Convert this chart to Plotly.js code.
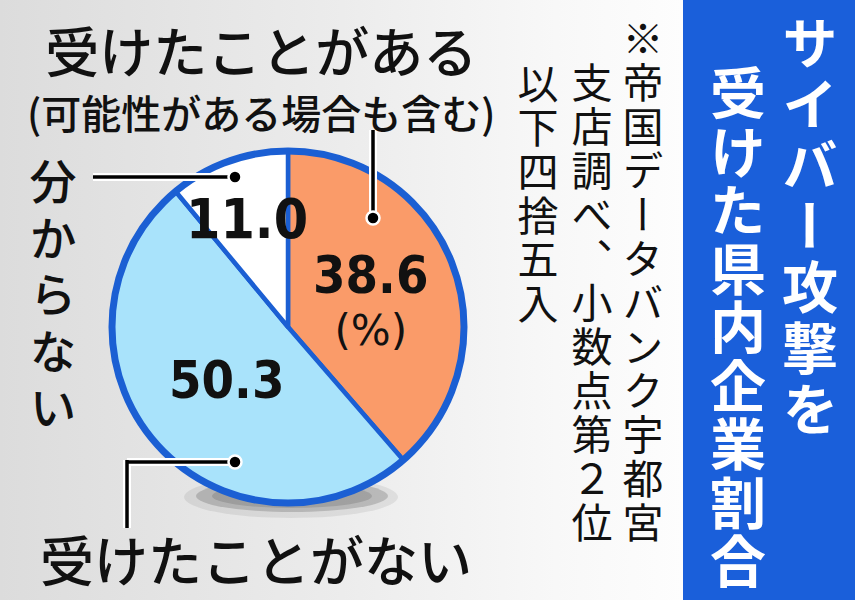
<!DOCTYPE html>
<html>
<head>
<meta charset="utf-8">
<script src="https://cdn.plot.ly/plotly-3.0.1.min.js"></script>
<style>
html,body{margin:0;padding:0;}
body{background:linear-gradient(to right,#dcdcdc 0%,#ececec 40%,#f8f8f8 65%,#fdfdfd 80%);}
#chart{width:855px;height:600px;}
</style>
</head>
<body>
<div id="chart"></div>
<script>
// ---- data ----
const labels = ['受けたことがある', '受けたことがない', '分からない'];
const values = [38.6, 50.3, 11.0];
const subLabel = '(可能性がある場合も含む)';
const unitLabel = '(%)';
const titleLines = ['サイバー攻撃を', '受けた県内企業割合'];
const noteLines = ['※帝国データバンク宇都宮', '支店調べ、小数点第２位', '以下四捨五入'];

// ---- styles ----
const W = 855, H = 600;
const sliceColors = ['#fa9b69', '#a9e3fb', '#ffffff'];
const ringBlue = '#1b5fd3';
const bandBlue = '#1a5fda';
const JP = '"Noto Sans CJK JP", "Noto Sans", sans-serif';
const NUM = '"DejaVu Sans Condensed", "Liberation Sans Narrow", sans-serif';
const NUMCSS = "'DejaVu Sans Condensed', 'Liberation Sans Narrow', sans-serif";
const px = x => x / W;
const py = y => 1 - y / H;

// pie geometry (pixels)
const cx = 288, cy = 327, R = 176;

const trace = {
  type: 'pie',
  labels: labels,
  values: values,
  sort: false,
  direction: 'clockwise',
  rotation: 0,
  textinfo: 'none',
  hoverinfo: 'label+value',
  showlegend: false,
  marker: {colors: sliceColors, line: {color: ringBlue, width: 4.5}},
  domain: {x: [px(cx - R), px(cx + R)], y: [py(cy + R), py(cy - R)]}
};

const shapes = [];
shapes.push({type:'rect', xref:'paper', yref:'paper', x0:px(683), x1:1, y0:0, y1:1,
  fillcolor: bandBlue, line:{width:0}, layer:'below'});
shapes.push({type:'circle', xref:'paper', yref:'paper', x0:px(184), x1:px(398), y0:py(518), y1:py(476),
  fillcolor:'rgba(0,0,0,0.07)', line:{width:0}, layer:'below'});
shapes.push({type:'circle', xref:'paper', yref:'paper', x0:px(196), x1:px(388), y0:py(512), y1:py(480),
  fillcolor:'rgba(0,0,0,0.16)', line:{width:0}, layer:'below'});
shapes.push({type:'circle', xref:'paper', yref:'paper', x0:px(212), x1:px(372), y0:py(508), y1:py(484),
  fillcolor:'rgba(0,0,0,0.12)', line:{width:0}, layer:'below'});
shapes.push({type:'circle', xref:'paper', yref:'paper', x0:px(cx-R), x1:px(cx+R), y0:py(cy+R), y1:py(cy-R),
  line:{color: ringBlue, width:7}, fillcolor:'rgba(0,0,0,0)', layer:'above'});

function seg(x0,y0,x1,y1,color,width){
  shapes.push({type:'line', xref:'paper', yref:'paper', x0:px(x0), y0:py(y0), x1:px(x1), y1:py(y1),
    line:{color:color, width:width}, layer:'above'});
}
function dot(x,y){
  const r = 6.5;
  shapes.push({type:'circle', xref:'paper', yref:'paper', x0:px(x-r), x1:px(x+r), y0:py(y+r), y1:py(y-r),
    fillcolor:'#000000', line:{color:'#ffffff', width:2.5}, layer:'above'});
}
const segs = [
  [373,130,373,218],
  [93,177,235,177],
  [127,462,235,462],
  [127,460,127,528]
];
segs.forEach(s => seg(...s, '#ffffff', 8));
segs.forEach(s => seg(...s, '#000000', 3.5));
dot(373,218); dot(235,177); dot(235,462);

const annotations = [];
function ann(text, x, y, font, extra){
  annotations.push(Object.assign({text:text, x:px(x), y:py(y), xref:'paper', yref:'paper',
    xanchor:'center', yanchor:'middle', showarrow:false, font:font, borderpad:0}, extra||{}));
}
// vertical columns: one annotation each, set upright in vertical writing after render
const vCols = [];
function vcol(str, xc, yc, font, spacing){
  vCols.push({i: annotations.length, xc: xc, yc: yc, spacing: spacing});
  ann(str, xc, yc, font);
}

// category labels
ann('<span style="font-size:54px">' + labels[0] + '</span><br><span style="font-size:40px">' + subLabel + '</span>',
    261, 75, {family: JP, size: 43, color:'#111', weight:500}, {align:'center'});
ann(labels[1], 256, 558, {family: JP, size: 54, color:'#111', weight:500});
vcol(labels[2], 53, 299, {family: JP, size: 47, color:'#111', weight:500}, 9.5);

// values in slices
ann('<span style="font-size:52px;font-weight:bold;font-family:' + NUMCSS + '">' + values[0].toFixed(1) +
    '</span><br><span style="font-size:42px;font-family:\'DejaVu Sans\', sans-serif">' + unitLabel + '</span>',
    370, 300, {family: JP, size: 40, color:'#111'}, {align:'center'});
ann(values[1].toFixed(1), 227, 380, {family: NUM, size: 52, color:'#111', weight:'bold'});
ann(values[2].toFixed(1), 247, 219, {family: NUM, size: 55, color:'#111', weight:'bold'});

// title (vertical, white on blue)
vcol(titleLines[0], 810, 228, {family: JP, size: 56, color:'#ffffff', weight:'bold'}, 5);
vcol(titleLines[1], 738, 328, {family: JP, size: 56, color:'#ffffff', weight:'bold'}, 2.5);

// source note (vertical)
vcol(noteLines[0], 643, 282, {family: JP, size: 41, color:'#111'}, 3);
vcol(noteLines[1], 592, 304, {family: JP, size: 41, color:'#111'}, 3);
vcol(noteLines[2], 538, 195, {family: JP, size: 41, color:'#111'}, 3);

const layout = {
  width: W, height: H,
  margin: {l:0, r:0, t:0, b:0},
  paper_bgcolor: 'rgba(0,0,0,0)',
  plot_bgcolor: 'rgba(0,0,0,0)',
  showlegend: false,
  shapes: shapes,
  annotations: annotations
};
Plotly.newPlot('chart', [trace], layout, {displayModeBar:false, staticPlot:true}).then(gd => {
  const root = gd.getBoundingClientRect();
  vCols.forEach(v => {
    const t = gd.querySelector('.annotation[data-index="' + v.i + '"] .annotation-text');
    if (!t) return;
    t.style.writingMode = 'vertical-rl';
    t.style.letterSpacing = v.spacing + 'px';
    t.setAttribute('text-anchor', 'middle');
    const r = t.getBoundingClientRect();
    const dx = v.xc - (r.left - root.left + r.width / 2);
    const dy = v.yc - (r.top - root.top + r.height / 2);
    t.setAttribute('transform', 'translate(' + dx.toFixed(1) + ',' + dy.toFixed(1) + ')');
  });
});
</script>
</body>
</html>
